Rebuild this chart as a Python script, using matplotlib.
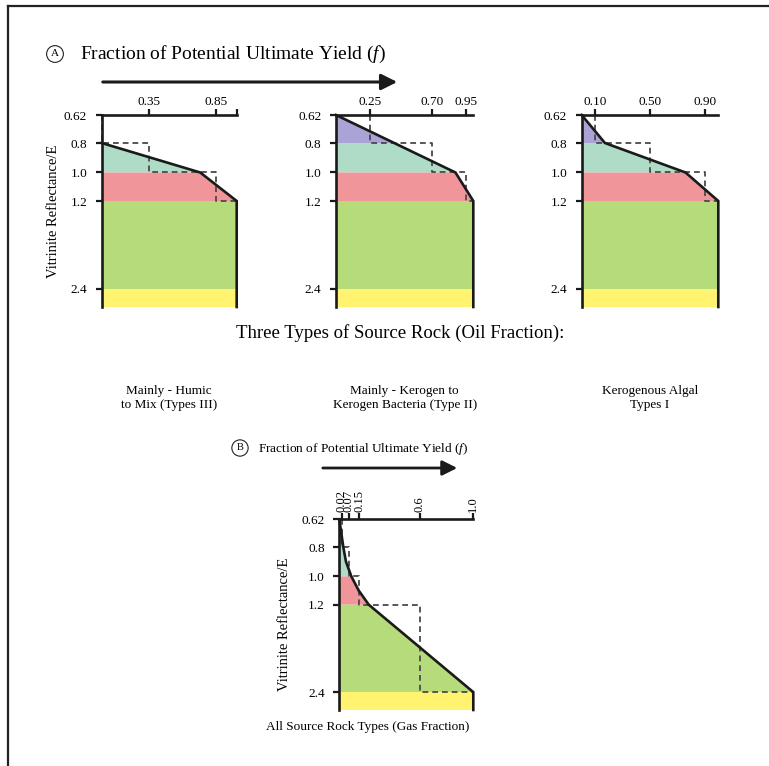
import numpy as np
import matplotlib
matplotlib.use('Agg')
import matplotlib.pyplot as plt
from matplotlib.patches import FancyArrowPatch
from matplotlib.lines import Line2D

plt.rcParams['font.family'] = ['Liberation Serif', 'DejaVu Serif']
plt.rcParams['mathtext.fontset'] = 'custom'
plt.rcParams['mathtext.rm'] = 'Liberation Serif'
plt.rcParams['mathtext.it'] = 'Liberation Serif:italic'

# ---------------- data ----------------
ro_ticks = [0.62, 0.8, 1.0, 1.2, 2.4]
ro_tick_labels = ['0.62', '0.8', '1.0', '1.2', '2.4']
ro_bottom = 2.65
band_edges = [0.62, 0.8, 1.0, 1.2, 2.4, ro_bottom]
band_colors = ['#aaa3d6', '#afdcc7', '#f0969b', '#b6db7b', '#fff36f']

# Oil fraction panels (Type III, Type II, Type I)
panel_titles = ['Mainly - Humic\nto Mix (Types III)',
                'Mainly - Kerogen to\nKerogen Bacteria (Type II)',
                'Kerogenous Algal\nTypes I']
step_edges = [0.62, 0.8, 1.0, 1.2]
step_fracs = [[0.0, 0.35, 0.85, 1.0],
              [0.25, 0.70, 0.95, 1.0],
              [0.10, 0.50, 0.90, 1.0]]
xtick_vals = [[0.35, 0.85, 1.0], [0.25, 0.70, 0.95], [0.10, 0.50, 0.90]]
xtick_labels = [['0.35', '0.85', ''], ['0.25', '0.70', '0.95'], ['0.10', '0.50', '0.90']]
curve_ro = [[0.8, 1.0, 1.2], [0.62, 1.0, 1.2], [0.62, 0.8, 1.0, 1.2]]
curve_f = [[0.0, 0.73, 1.0], [0.0, 0.87, 1.0], [0.0, 0.17, 0.76, 1.0]]

# Gas fraction panel
gas_step_edges = [0.62, 0.8, 1.0, 1.2, 2.4]
gas_step = [0.02, 0.07, 0.15, 0.6, 1.0]
gas_xticks = [0.02, 0.07, 0.15, 0.6, 1.0]
gas_xlabels = ['0.02', '0.07', '0.15', '0.6', '1.0']
gas_curve_ro = [0.62, 0.8, 0.9, 1.0, 1.1, 1.2, 2.4]
gas_curve_f = [0.0, 0.03, 0.05, 0.09, 0.145, 0.22, 1.0]

# ------------- non-linear vitrinite scale -------------
_kv = np.array([0.62, 0.8, 1.0, 1.2, 2.4, 2.65])
_kp = np.array([0.0, 28.0, 57.5, 86.0, 174.0, 192.0])
_s0 = (_kp[1] - _kp[0]) / (_kv[1] - _kv[0])
_s1 = (_kp[-1] - _kp[-2]) / (_kv[-1] - _kv[-2])


def fwd(v):
    v = np.asarray(v, float)
    p = np.interp(v, _kv, _kp)
    p = np.where(v < _kv[0], _kp[0] + (v - _kv[0]) * _s0, p)
    p = np.where(v > _kv[-1], _kp[-1] + (v - _kv[-1]) * _s1, p)
    return p


def inv(p):
    p = np.asarray(p, float)
    v = np.interp(p, _kp, _kv)
    v = np.where(p < _kp[0], _kv[0] + (p - _kp[0]) / _s0, v)
    v = np.where(p > _kp[-1], _kv[-1] + (p - _kp[-1]) / _s1, v)
    return v


W, H = 769, 766
fig = plt.figure(figsize=(W / 100, H / 100), dpi=100)


def add_ax(x0, y0, x1, y1):
    return fig.add_axes([x0 / W, 1 - y1 / H, (x1 - x0) / W, (y1 - y0) / H])


def fx(x):
    return x / W


def fy(y):
    return 1 - y / H


LW = 1.9
INK = '#1a1a1a'


def draw_panel(ax, cro, cf, sedges, sfracs, xt, xl, ylabel=False, rot=0):
    ax.set_yscale('function', functions=(fwd, inv))
    ax.set_xlim(0, 1)
    ax.set_ylim(ro_bottom, 0.62)
    ax.set_facecolor('none')
    # coloured bands left of the yield curve
    cp = fwd(cro)
    for i in range(len(band_edges) - 1):
        a, b = band_edges[i], band_edges[i + 1]
        pa, pb = float(fwd(a)), float(fwd(b))
        fa = float(np.interp(pa, cp, cf, left=0, right=1))
        fb = float(np.interp(pb, cp, cf, left=0, right=1))
        inner = [(f, r) for r, f, p in zip(cro, cf, cp) if pa < p < pb]
        xs = [0, fa] + [f for f, r in inner] + [fb, 0]
        ys = [a, a] + [r for f, r in inner] + [b, b]
        ax.fill(xs, ys, color=band_colors[i], lw=0, zorder=1)
    # dashed step (interval fractions)
    sx, sy = [], []
    for i in range(len(sfracs) - 1):
        sx += [sfracs[i], sfracs[i]]
        sy += [sedges[i], sedges[i + 1]]
    sx.append(sfracs[-1])
    sy.append(sedges[-1])
    ax.plot(sx, sy, ls=(0, (3.2, 2.2)), color='#4a4a4a', lw=1.3, zorder=3,
            clip_on=False)
    # solid cumulative curve and right edge
    ax.plot(list(cf) + [1.0], list(cro) + [ro_bottom], color=INK,
            lw=LW, zorder=4, clip_on=False, solid_joinstyle='miter')
    for s in ['right', 'bottom']:
        ax.spines[s].set_visible(False)
    for s in ['left', 'top']:
        ax.spines[s].set_linewidth(LW)
        ax.spines[s].set_color(INK)
        ax.spines[s].set_zorder(5)
    ax.xaxis.tick_top()
    ax.set_xticks(xt)
    ax.set_xticklabels(xl, rotation=rot)
    ax.set_yticks(ro_ticks)
    ax.set_yticklabels(ro_tick_labels)
    ax.minorticks_off()
    ax.tick_params(axis='both', direction='out', length=4.5, width=1.6,
                   color=INK, labelsize=9.5)
    ax.tick_params(axis='x', pad=0.8)
    ax.tick_params(axis='y', pad=6)
    if ylabel:
        ax.set_ylabel('Vitrinite Reflectance/E', fontsize=10.5)


# Oil panels
boxes = [(101.7, 115, 236.7, 307), (336, 115, 473.3, 307), (581.7, 115, 718.3, 307)]
for k, bx in enumerate(boxes):
    ax = add_ax(*bx)
    draw_panel(ax, curve_ro[k], curve_f[k], step_edges, step_fracs[k],
               xtick_vals[k], xtick_labels[k], ylabel=(k == 0))
    if k == 0:
        ax.yaxis.set_label_coords((60 - bx[0]) / (bx[2] - bx[0]), 0.5)
    cx = (bx[0] + bx[2]) / 2
    fig.text(fx(cx), fy(398), panel_titles[k], ha='center', va='center',
             fontsize=9.5, linespacing=1.2)

# Gas panel
gb = (339.3, 519.3, 473.3, 710)
axg = add_ax(*gb)
draw_panel(axg, gas_curve_ro, gas_curve_f, gas_step_edges, gas_step,
           gas_xticks, gas_xlabels, ylabel=True, rot=90)
axg.tick_params(axis='x', labelsize=9)
axg.yaxis.set_label_coords((291 - gb[0]) / (gb[2] - gb[0]), 0.45)

# Titles and arrows
fig.text(fx(55), fy(54), 'A', ha='center', va='center', fontsize=8,
         bbox=dict(boxstyle='circle,pad=0.35', fc='white', ec='#222222', lw=0.8))
fig.text(fx(80), fy(54), 'Fraction of Potential Ultimate Yield ($\\mathit{f}$)',
         ha='left', va='center', fontsize=14)
fig.add_artist(FancyArrowPatch((fx(100), fy(82)), (fx(400), fy(82)),
                               transform=fig.transFigure,
                               arrowstyle='-|>,head_length=6,head_width=3',
                               mutation_scale=1.6, lw=2.2, color=INK))

fig.text(fx(400), fy(333), 'Three Types of Source Rock (Oil Fraction):',
         ha='center', va='center', fontsize=13.5)

fig.text(fx(240), fy(448), 'B', ha='center', va='center', fontsize=7.5,
         bbox=dict(boxstyle='circle,pad=0.35', fc='white', ec='#222222', lw=0.8))
fig.text(fx(258), fy(449), 'Fraction of Potential Ultimate Yield ($\\mathit{f}$)',
         ha='left', va='center', fontsize=9.6)
fig.add_artist(FancyArrowPatch((fx(320), fy(468)), (fx(460), fy(468)),
                               transform=fig.transFigure,
                               arrowstyle='-|>,head_length=6,head_width=3',
                               mutation_scale=1.5, lw=2.0, color=INK))
fig.text(fx(368), fy(727), 'All Source Rock Types (Gas Fraction)',
         ha='center', va='center', fontsize=9.5)

# frame (left and top edges)
fig.add_artist(Line2D([fx(8), fx(8)], [0, fy(6)], transform=fig.transFigure,
                      color='#222222', lw=1.6))
fig.add_artist(Line2D([fx(8), 1], [fy(6), fy(6)], transform=fig.transFigure,
                      color='#222222', lw=1.6))

fig.savefig('out.png', dpi=100)
